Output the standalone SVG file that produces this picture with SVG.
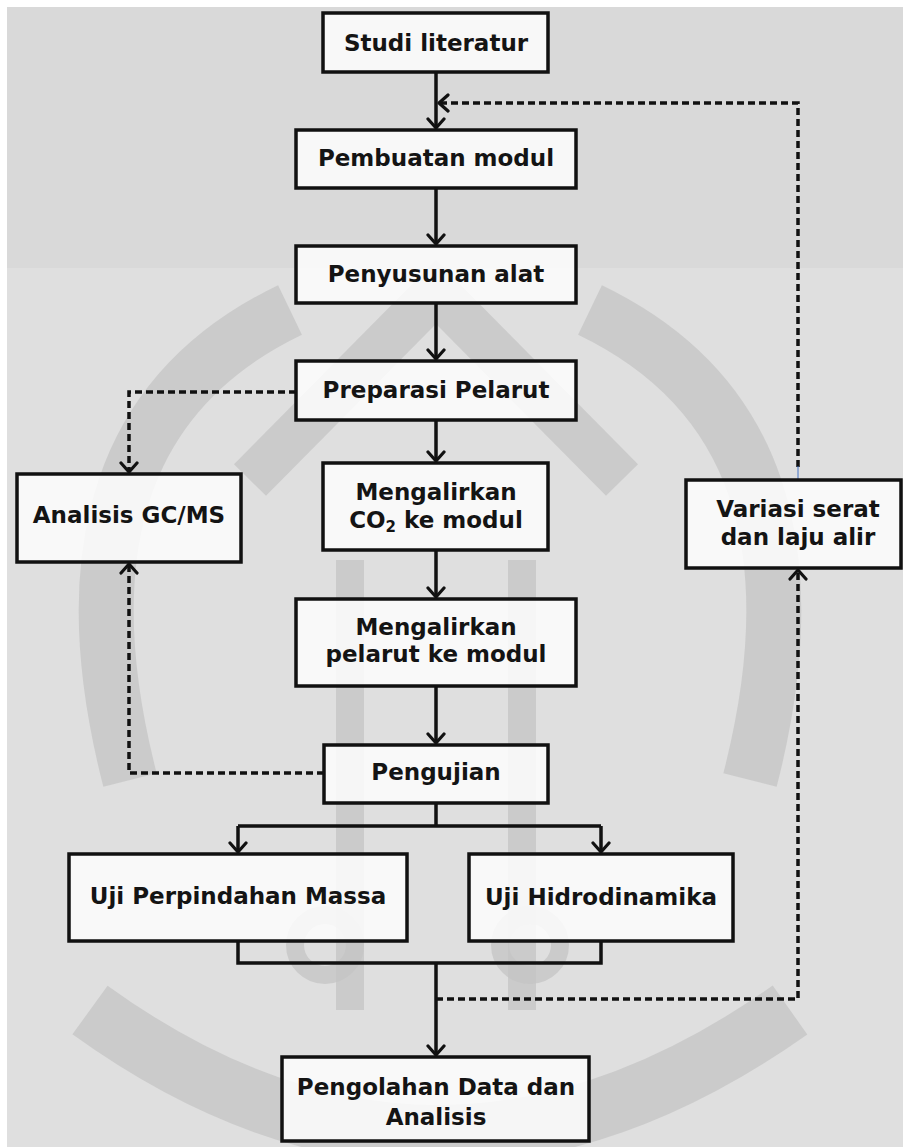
<svg xmlns="http://www.w3.org/2000/svg" width="903" height="1147" viewBox="0 0 903 1147">
<style>
.box{fill:#ffffff;fill-opacity:0.82;stroke:#111;stroke-width:3.5}
.t{font-family:"DejaVu Sans","Verdana",sans-serif;font-weight:bold;font-size:23px;fill:#141414;text-anchor:middle}
.solid{fill:none;stroke:#111;stroke-width:3.5}
.dash{fill:none;stroke:#111;stroke-width:3.5;stroke-dasharray:7 4}
.wm{fill:none;stroke:#c4c4c4;stroke-opacity:0.75}
</style>
<defs>
<marker id="arr" viewBox="-12 -10 14 20" refX="0" refY="0" markerWidth="14" markerHeight="20" markerUnits="userSpaceOnUse" orient="auto">
<path d="M-9,-8 L0,0 L-9,8" fill="none" stroke="#111" stroke-width="3.2" stroke-linejoin="round" stroke-linecap="round"/>
</marker>
</defs>
<rect x="0" y="0" width="903" height="1147" fill="#ffffff"/>
<rect x="7" y="7" width="896" height="261" fill="#d9d9d9"/>
<rect x="7" y="268" width="896" height="879" fill="#dfdfdf"/>
<g id="watermark">
<path class="wm" stroke-width="55" d="M290,310 Q40,430 130,780"/>
<path class="wm" stroke-width="55" d="M590,310 Q840,430 750,780"/>
<path class="wm" stroke-width="45" d="M250,480 L436,292 L622,480"/>
<path class="wm" stroke-width="28" d="M350,560 V1010 M522,560 V1010"/>
<path class="wm" stroke-width="60" d="M90,1010 Q436,1260 790,1010"/>
<circle class="wm" cx="325" cy="945" r="30" stroke-width="18"/>
<circle class="wm" cx="530" cy="945" r="30" stroke-width="18"/>
</g>
<g id="connectors">
<path class="solid" d="M436,72 V128" marker-end="url(#arr)"/>
<path class="solid" d="M436,188 V244" marker-end="url(#arr)"/>
<path class="solid" d="M436,303 V359" marker-end="url(#arr)"/>
<path class="solid" d="M436,420 V461" marker-end="url(#arr)"/>
<path class="solid" d="M436,550 V597" marker-end="url(#arr)"/>
<path class="solid" d="M436,686 V743" marker-end="url(#arr)"/>
<path class="solid" d="M436,803 V826 M238,826 H601"/>
<path class="solid" d="M238,826 V852" marker-end="url(#arr)"/>
<path class="solid" d="M601,826 V852" marker-end="url(#arr)"/>
<path class="solid" d="M238,941 V963 H601 V941"/>
<path class="solid" d="M436,963 V1055" marker-end="url(#arr)"/>
<path class="dash" d="M296,392 H129 V472" marker-end="url(#arr)"/>
<path class="dash" d="M324,773 H129 V564" marker-end="url(#arr)"/>
<path class="dash" d="M436,999 H798 V570" marker-end="url(#arr)"/>
<path class="dash" d="M798,467 V103 H439" marker-end="url(#arr)"/>
<line x1="798" y1="466" x2="798" y2="480" stroke="#4472c4" stroke-width="1"/>
</g>
<g id="n-studi"><rect class="box" x="323" y="13" width="225" height="59"/><text class="t" x="436" y="51">Studi literatur</text></g>
<g id="n-pembuatan"><rect class="box" x="296" y="130" width="280" height="58"/><text class="t" x="436" y="166">Pembuatan modul</text></g>
<g id="n-penyusunan"><rect class="box" x="296" y="246" width="280" height="57"/><text class="t" x="436" y="282">Penyusunan alat</text></g>
<g id="n-preparasi"><rect class="box" x="296" y="361" width="280" height="59"/><text class="t" x="436" y="398">Preparasi Pelarut</text></g>
<g id="n-co2"><rect class="box" x="323" y="463" width="225" height="87"/><text class="t" x="436" y="500">Mengalirkan</text><text class="t" x="436" y="528">CO<tspan font-size="15" dy="4">2</tspan><tspan dy="-4"> ke modul</tspan></text></g>
<g id="n-pelarut"><rect class="box" x="296" y="599" width="280" height="87"/><text class="t" x="436" y="635">Mengalirkan</text><text class="t" x="436" y="662">pelarut ke modul</text></g>
<g id="n-gcms"><rect class="box" x="17" y="474" width="224" height="88"/><text class="t" x="129" y="523">Analisis GC/MS</text></g>
<g id="n-variasi"><rect class="box" x="686" y="480" width="215" height="88"/><text class="t" x="798" y="517">Variasi serat</text><text class="t" x="798" y="545">dan laju alir</text></g>
<g id="n-pengujian"><rect class="box" x="324" y="745" width="224" height="58"/><text class="t" x="436" y="780">Pengujian</text></g>
<g id="n-massa"><rect class="box" x="69" y="854" width="338" height="87"/><text class="t" x="238" y="904">Uji Perpindahan Massa</text></g>
<g id="n-hidro"><rect class="box" x="469" y="854" width="264" height="87"/><text class="t" x="601" y="905">Uji Hidrodinamika</text></g>
<g id="n-pengolahan"><rect class="box" x="282" y="1057" width="307" height="84"/><text class="t" x="436" y="1095">Pengolahan Data dan</text><text class="t" x="436" y="1125">Analisis</text></g>
</svg>
